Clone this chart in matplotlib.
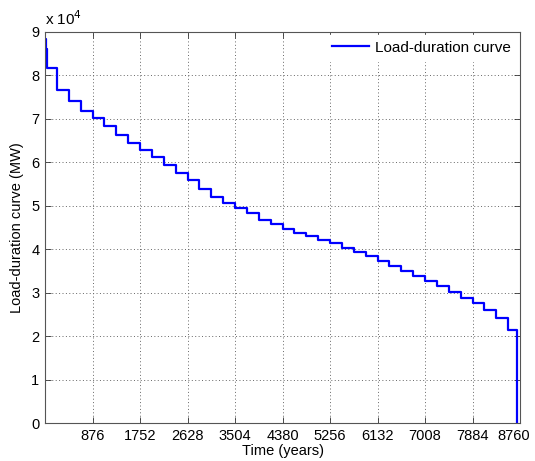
import matplotlib
matplotlib.use('Agg')
from matplotlib import pyplot as plt
from matplotlib.ticker import FuncFormatter
from matplotlib.transforms import ScaledTranslation

plt.rcParams['font.family'] = ['Liberation Sans', 'DejaVu Sans']

# peak hours at the very start of the year (hours, MW)
peak_hours = [0, 15, 30]
peak_load = [88200, 86000, 84500]

# stepped part of the curve: start hour of each plateau and its load (MW)
step_hours = [45, 219, 438, 657, 876, 1095, 1314, 1533, 1752, 1971,
              2190, 2409, 2628, 2847, 3066, 3285, 3504, 3723, 3942, 4161,
              4380, 4599, 4818, 5037, 5256, 5475, 5694, 5913, 6132, 6351,
              6570, 6789, 7008, 7227, 7446, 7665, 7884, 8103, 8322, 8541]
step_load = [81600, 76700, 74000, 71700, 70100, 68300, 66300, 64400, 62800, 61100,
             59400, 57500, 55900, 53800, 52000, 50700, 49500, 48200, 46800, 45700,
             44700, 43800, 43000, 42100, 41300, 40300, 39300, 38300, 37300, 36200,
             35000, 33900, 32700, 31500, 30100, 28800, 27500, 26000, 24200, 21400]

# final drop to zero at the end of the year
tail_hours = [8695, 8702]
tail_load = [10500, 0]

x_ticks = [876, 1752, 2628, 3504, 4380, 5256, 6132, 7008, 7884, 8760]
y_ticks = [0, 10000, 20000, 30000, 40000, 50000, 60000, 70000, 80000, 90000]

hours = peak_hours + step_hours + tail_hours
load = peak_load + step_load + tail_load

fig = plt.figure(figsize=(5.35, 4.61), dpi=100)
ax = fig.add_axes([0.0841, 0.0824, 0.888, 0.8489])

ax.plot(hours, load, drawstyle='steps-post', color='#0000ff', linewidth=1.6,
        label='Load-duration curve')

ax.set_xlim(0, 8760)
ax.set_ylim(0, 90000)
ax.set_xticks(x_ticks)
ax.set_yticks(y_ticks)
ax.yaxis.set_major_formatter(FuncFormatter(lambda v, p: f'{v / 1e4:g}'))
ax.tick_params(direction='in', top=True, right=True, length=4, width=0.6,
               labelsize=10.5, color='#333333', pad=4)
for s in ax.spines.values():
    s.set_color('#555555')
    s.set_linewidth(0.8)
ax.grid(True, linestyle=(0, (1, 2.5)), color='#666666', linewidth=0.7)

# keep the last x label inside the figure
last = ax.get_xticklabels()[-1]
last.set_transform(last.get_transform() + ScaledTranslation(-0.06, 0, fig.dpi_scale_trans))

ax.text(0.0, 1.01, r'x 10$^4$', transform=ax.transAxes, fontsize=11,
        ha='left', va='bottom')

ax.set_xlabel('Time (years)', fontsize=10.5, labelpad=1)
ax.set_ylabel('Load-duration curve (MW)', fontsize=10.5, labelpad=5)

leg = ax.legend(loc='upper right', fontsize=11, frameon=True, fancybox=False,
                handlelength=2.4, handletextpad=0.4, borderaxespad=0.2)
leg.get_frame().set_edgecolor('white')
leg.get_frame().set_alpha(1)

fig.savefig('out.png', dpi=100)
